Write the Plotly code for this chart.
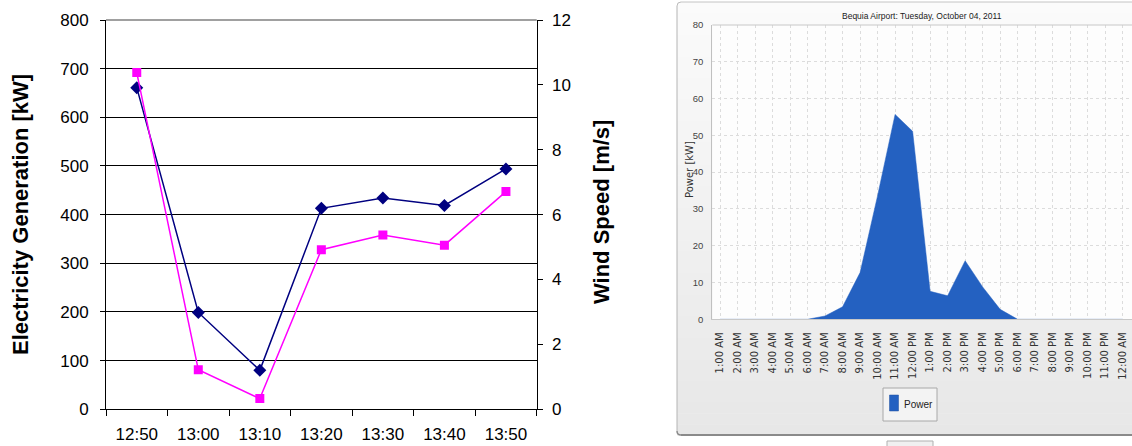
import plotly.graph_objects as go

W, H = 1132, 446


def px(x):
    return x / W


def py(y):
    return 1 - y / H


# ---------------- data ----------------
times = ["12:50", "13:00", "13:10", "13:20", "13:30", "13:40", "13:50"]
generation_kw = [661, 199, 80, 413, 434, 419, 494]
wind_speed_ms = [10.38, 1.22, 0.33, 4.92, 5.37, 5.06, 6.71]
kw_ticks = [0, 100, 200, 300, 400, 500, 600, 700, 800]
ws_ticks = [0, 2, 4, 6, 8, 10, 12]

hours = ["1:00 AM", "2:00 AM", "3:00 AM", "4:00 AM", "5:00 AM", "6:00 AM",
         "7:00 AM", "8:00 AM", "9:00 AM", "10:00 AM", "11:00 AM", "12:00 PM",
         "1:00 PM", "2:00 PM", "3:00 PM", "4:00 PM", "5:00 PM", "6:00 PM",
         "7:00 PM", "8:00 PM", "9:00 PM", "10:00 PM", "11:00 PM", "12:00 AM"]
power_kw = [0, 0, 0, 0, 0, 0, 0.9, 3.4, 12.7, 33.6, 55.7, 51.1,
            7.6, 6.4, 15.9, 8.8, 2.7, 0, 0, 0, 0, 0, 0, 0]
power_ticks = [0, 10, 20, 30, 40, 50, 60, 70, 80]

right_title = "Bequia Airport: Tuesday, October 04, 2011"
legend_label = "Power"

# ---------------- fonts / colours ----------------
ARIAL = "Liberation Sans, Arial, sans-serif"
DEJAVU = "DejaVu Sans, Verdana, sans-serif"
BLUE = "#2461C1"

fig = go.Figure()

fig.add_trace(go.Scatter(
    x=times, y=generation_kw, mode="lines+markers", name="Electricity Generation",
    line=dict(color="#000080", width=1.5),
    marker=dict(symbol="diamond", size=10, color="#000080"),
    xaxis="x", yaxis="y", showlegend=False))

fig.add_trace(go.Scatter(
    x=times, y=wind_speed_ms, mode="lines+markers", name="Wind Speed",
    line=dict(color="#FF00FF", width=1.5),
    marker=dict(symbol="square", size=9, color="#FF00FF"),
    xaxis="x", yaxis="y2", showlegend=False))

fig.add_trace(go.Scatter(
    x=hours, y=power_kw, mode="lines", name=legend_label,
    fill="tozeroy", fillcolor=BLUE, line=dict(color=BLUE, width=0.5),
    xaxis="x2", yaxis="y3", showlegend=False))

# ---------------- shapes ----------------
shapes = []

# right panel background gradient
top_y, bot_y = 2, 435
left_x, right_x = 677, 1140
n = 40
c0, c1 = 251, 231
for i in range(n):
    y0 = top_y + (bot_y - top_y) * i / n
    y1 = top_y + (bot_y - top_y) * (i + 1) / n + 0.5
    c = round(c0 + (c1 - c0) * i / (n - 1))
    shapes.append(dict(type="rect", xref="paper", yref="paper", layer="below",
                       x0=px(left_x), x1=px(right_x), y0=py(y1), y1=py(y0),
                       fillcolor=f"rgb({c},{c},{c})", line=dict(width=0)))
# right plot area (white)
shapes.append(dict(type="rect", xref="paper", yref="paper", layer="below",
                   x0=px(712.3), x1=px(1140), y0=py(319.3), y1=py(25),
                   fillcolor="#fdfdfd", line=dict(width=0)))
# panel border
shapes.append(dict(type="line", xref="paper", yref="paper", layer="above",
                   x0=px(677), x1=px(677), y0=py(431), y1=py(6),
                   line=dict(color="#b4b4b4", width=1)))
shapes.append(dict(type="line", xref="paper", yref="paper", layer="above",
                   x0=px(681), x1=px(1140), y0=py(2), y1=py(2),
                   line=dict(color="#c4c4c4", width=1)))
shapes.append(dict(type="path", xref="paper", yref="paper", layer="above",
                   path=f"M {px(677)},{py(6)} Q {px(677)},{py(2)} {px(681)},{py(2)}",
                   line=dict(color="#bcbcbc", width=1)))
shapes.append(dict(type="path", xref="paper", yref="paper", layer="above",
                   path=f"M {px(677)},{py(431)} Q {px(677)},{py(435)} {px(681)},{py(435)}",
                   line=dict(color="#8a8a8a", width=1.5)))
shapes.append(dict(type="line", xref="paper", yref="paper", layer="above",
                   x0=px(681), x1=px(1140), y0=py(435), y1=py(435),
                   line=dict(color="#8a8a8a", width=2)))
# small tab below panel
shapes.append(dict(type="rect", xref="paper", yref="paper", layer="above",
                   x0=px(887), x1=px(933), y0=py(448), y1=py(441),
                   fillcolor="#f0f0f0", line=dict(color="#b0b0b0", width=1)))
# right plot top border
shapes.append(dict(type="line", xref="paper", yref="paper", layer="above",
                   x0=px(712.3), x1=px(1140), y0=py(25), y1=py(25),
                   line=dict(color="#c8c8c8", width=1)))
# legend box
shapes.append(dict(type="rect", xref="paper", yref="paper", layer="above",
                   x0=px(883), x1=px(937), y0=py(421), y1=py(388),
                   fillcolor="#f3f3f3", line=dict(color="#a8a8a8", width=1)))
shapes.append(dict(type="rect", xref="paper", yref="paper", layer="above",
                   x0=px(889.5), x1=px(898.5), y0=py(411), y1=py(395),
                   fillcolor=BLUE, line=dict(color="#1d4f9e", width=0.5)))
# left chart top gridline (grey)
shapes.append(dict(type="line", xref="paper", yref="paper", layer="above",
                   x0=px(106), x1=px(536.7), y0=py(20), y1=py(20),
                   line=dict(color="#808080", width=1.5)))

# ---------------- annotations ----------------
annotations = [
    dict(text="Electricity Generation [kW]", xref="paper", yref="paper",
         x=px(21), y=py(215), xanchor="center", yanchor="middle", textangle=-90,
         showarrow=False, font=dict(family=ARIAL, size=22, color="black", weight="bold")),
    dict(text="Wind Speed [m/s]", xref="paper", yref="paper",
         x=px(601), y=py(212), xanchor="center", yanchor="middle", textangle=-90,
         showarrow=False, font=dict(family=ARIAL, size=22, color="black", weight="bold")),
    dict(text=right_title, xref="paper", yref="paper",
         x=px(922), y=py(16), xanchor="center", yanchor="middle",
         showarrow=False, font=dict(family=ARIAL, size=8.5, color="#1a1a1a")),
    dict(text="Power [kW]", xref="paper", yref="paper",
         x=px(689), y=py(170), xanchor="center", yanchor="middle", textangle=-90,
         showarrow=False, font=dict(family=DEJAVU, size=10, color="#333333")),
    dict(text=legend_label, xref="paper", yref="paper",
         x=px(902), y=py(404), xanchor="left", yanchor="middle",
         showarrow=False, font=dict(family=ARIAL, size=10, color="#222222")),
]

fig.update_layout(
    width=W, height=H,
    autosize=False,
    margin=dict(l=0, r=0, t=0, b=0, pad=0),
    paper_bgcolor="white",
    plot_bgcolor="rgba(0,0,0,0)",
    shapes=shapes,
    annotations=annotations,
    showlegend=False,
    xaxis=dict(
        domain=[px(106), px(536.7)], anchor="y", type="category",
        categoryorder="array", categoryarray=times,
        range=[-0.5, len(times) - 0.5], automargin=False,
        showline=True, linecolor="black", linewidth=1,
        ticks="outside", ticklen=6, tickcolor="black", tickson="boundaries",
        showgrid=False, zeroline=False, ticklabelstandoff=9,
        tickfont=dict(family=ARIAL, size=17, color="black")),
    yaxis=dict(
        domain=[py(409.3), py(20)], anchor="x", automargin=False,
        range=[0, 800], tickvals=kw_ticks,
        showline=True, linecolor="black", linewidth=1,
        ticks="outside", ticklen=5, tickcolor="black",
        showgrid=True, gridcolor="black", gridwidth=1, zeroline=False,
        ticklabelstandoff=8,
        tickfont=dict(family=ARIAL, size=17, color="black")),
    yaxis2=dict(
        overlaying="y", side="right", anchor="x", automargin=False,
        range=[0, 12], tickvals=ws_ticks,
        showline=True, linecolor="black", linewidth=1,
        ticks="outside", ticklen=5, tickcolor="black",
        showgrid=False, zeroline=False, ticklabelstandoff=6,
        tickfont=dict(family=ARIAL, size=17, color="black")),
    xaxis2=dict(
        domain=[px(712.3), 1.0], anchor="y3", type="category",
        categoryorder="array", categoryarray=hours, automargin=False,
        range=[-0.44, 23.53],
        showline=True, linecolor="#c8c8c8", linewidth=1,
        ticks="", tickangle=-90, ticklabelstandoff=8,
        showgrid=True, gridcolor="#dcdcdc", gridwidth=1, griddash="dot",
        zeroline=False,
        tickfont=dict(family=DEJAVU, size=10, color="#333333")),
    yaxis3=dict(
        domain=[py(319.3), py(25)], anchor="x2", automargin=False,
        range=[0, 80], tickvals=power_ticks,
        showline=True, linecolor="#c0c0c0", linewidth=1,
        ticks="", ticklabelstandoff=6,
        showgrid=True, gridcolor="#dcdcdc", gridwidth=1, griddash="dot",
        zeroline=False,
        tickfont=dict(family=ARIAL, size=9.5, color="#444444")),
)

post = """
document.documentElement.style.margin='0';
document.documentElement.style.padding='0';
document.documentElement.style.overflow='hidden';
document.body.style.margin='0';
document.body.style.padding='0';
document.body.style.overflow='hidden';
var gd = document.getElementById('{plot_id}');
gd.style.position='absolute';
gd.style.left='0px';
gd.style.top='0px';
"""

fig.write_html("out.html", post_script=post, config={"displayModeBar": False})
